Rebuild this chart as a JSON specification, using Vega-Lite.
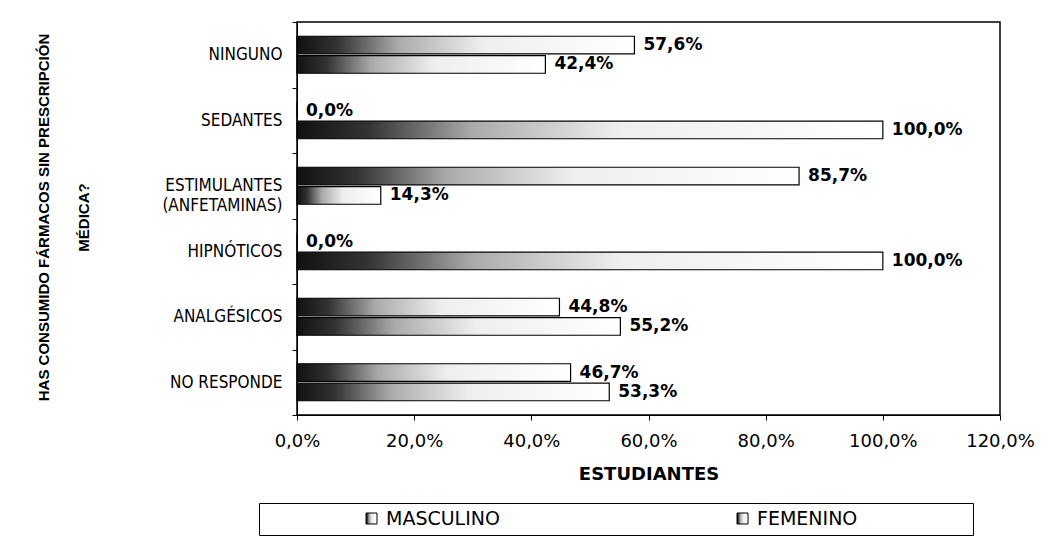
{
  "$schema": "https://vega.github.io/schema/vega-lite/v6.json",
  "width": 703,
  "height": 393,
  "autosize": "none",
  "padding": {"left": 297, "top": 22, "right": 56, "bottom": 125},
  "background": "white",
  "config": {
    "locale": {"number": {"decimal": ",", "thousands": ".", "grouping": [3], "currency": ["", " €"]}},
    "view": {"stroke": "black", "strokeWidth": 1.5},
    "font": "DejaVu Sans"
  },
  "data": {
    "values": [
      {"categoria": "NINGUNO", "sexo": "MASCULINO", "valor": 0.576},
      {"categoria": "NINGUNO", "sexo": "FEMENINO", "valor": 0.424},
      {"categoria": "SEDANTES", "sexo": "MASCULINO", "valor": 0.0},
      {"categoria": "SEDANTES", "sexo": "FEMENINO", "valor": 1.0},
      {"categoria": "ESTIMULANTES (ANFETAMINAS)", "sexo": "MASCULINO", "valor": 0.857},
      {"categoria": "ESTIMULANTES (ANFETAMINAS)", "sexo": "FEMENINO", "valor": 0.143},
      {"categoria": "HIPNÓTICOS", "sexo": "MASCULINO", "valor": 0.0},
      {"categoria": "HIPNÓTICOS", "sexo": "FEMENINO", "valor": 1.0},
      {"categoria": "ANALGÉSICOS", "sexo": "MASCULINO", "valor": 0.448},
      {"categoria": "ANALGÉSICOS", "sexo": "FEMENINO", "valor": 0.552},
      {"categoria": "NO RESPONDE", "sexo": "MASCULINO", "valor": 0.467},
      {"categoria": "NO RESPONDE", "sexo": "FEMENINO", "valor": 0.533}
    ]
  },
  "encoding": {
    "y": {
      "field": "categoria",
      "type": "nominal",
      "sort": ["NINGUNO", "SEDANTES", "ESTIMULANTES (ANFETAMINAS)", "HIPNÓTICOS", "ANALGÉSICOS", "NO RESPONDE"],
      "scale": {"paddingInner": 0, "paddingOuter": 0},
      "axis": {
        "title": ["HAS CONSUMIDO FÁRMACOS SIN PRESCRIPCIÓN", "MÉDICA?"],
        "titleFont": "Liberation Sans",
        "titleAngle": -90,
        "titleX": -261,
        "titleY": 195,
        "titleAlign": "center",
        "titleBaseline": "top",
        "titleLineHeight": 40,
        "titleFontSize": 15,
        "titleFontWeight": "bold",
        "titleColor": "black",
        "tickBand": "extent",
        "tickSize": 5,
        "tickColor": "black",
        "domainColor": "black",
        "labelFont": "'Liberation Sans Narrow', 'Arial Narrow', 'DejaVu Sans Condensed', 'Liberation Sans', sans-serif",
        "labelFontSize": 17,
        "labelColor": "black",
        "labelPadding": 10,
        "labelLineHeight": 20,
        "labelLimit": 300,
        "labelExpr": "datum.value == 'ESTIMULANTES (ANFETAMINAS)' ? ['ESTIMULANTES', '(ANFETAMINAS)'] : datum.value"
      }
    },
    "yOffset": {
      "field": "sexo",
      "type": "nominal",
      "sort": ["MASCULINO", "FEMENINO"],
      "scale": {"paddingInner": 0.1, "paddingOuter": 0.73}
    },
    "x": {
      "field": "valor",
      "type": "quantitative",
      "scale": {"domain": [0, 1.2], "nice": false},
      "axis": {
        "title": "ESTUDIANTES",
        "titleFontSize": 18,
        "titleFontWeight": "bold",
        "titleColor": "black",
        "titlePadding": 15,
        "format": ".1%",
        "values": [0, 0.2, 0.4, 0.6, 0.8, 1.0, 1.2],
        "grid": false,
        "labelFlush": false,
        "tickSize": 5,
        "tickColor": "black",
        "domainColor": "black",
        "labelFontSize": 18,
        "labelColor": "black",
        "labelPadding": 12
      }
    }
  },
  "layer": [
    {
      "mark": {
        "type": "bar",
        "strokeWidth": 1.2,
        "fill": {"gradient": "linear", "x1": 0, "y1": 0, "x2": 1, "y2": 0, "stops": [{"offset": 0, "color": "#111111"}, {"offset": 0.12, "color": "#333333"}, {"offset": 0.3, "color": "#aaaaaa"}, {"offset": 0.55, "color": "#eeeeee"}, {"offset": 1, "color": "#ffffff"}]}
      },
      "encoding": {
        "stroke": {
          "field": "sexo",
          "type": "nominal",
          "scale": {"domain": ["MASCULINO", "FEMENINO"], "range": ["black", "black"]},
          "legend": {
            "orient": "none",
            "legendX": -38,
            "legendY": 481,
            "direction": "horizontal",
            "columns": 2,
            "gridAlign": "none",
            "columnPadding": 233,
            "padding": 6,
            "strokeColor": "black",
            "fillColor": "white",
            "title": "000000000000",
            "titleFont": "Liberation Sans",
            "titleOrient": "left",
            "titleOpacity": 0,
            "titleFontSize": 14,
            "titleFontWeight": "normal",
            "titlePadding": 3,
            "symbolType": "square",
            "symbolSize": 121,
            "symbolStrokeWidth": 1,
            "labelFontSize": 19,
            "labelColor": "black",
            "labelOffset": 5,
            "labelLimit": 600,
            "labelExpr": "datum.label == 'FEMENINO' ? pad(datum.label, 26, '\u00a0') + '\u200b' : datum.label"
          }
        }
      }
    },
    {
      "mark": {"type": "text", "align": "left", "baseline": "middle", "dx": 9, "fontSize": 17, "fontWeight": "bold", "color": "black"},
      "encoding": {
        "text": {"field": "valor", "type": "quantitative", "format": ".1%"}
      }
    }
  ]
}
